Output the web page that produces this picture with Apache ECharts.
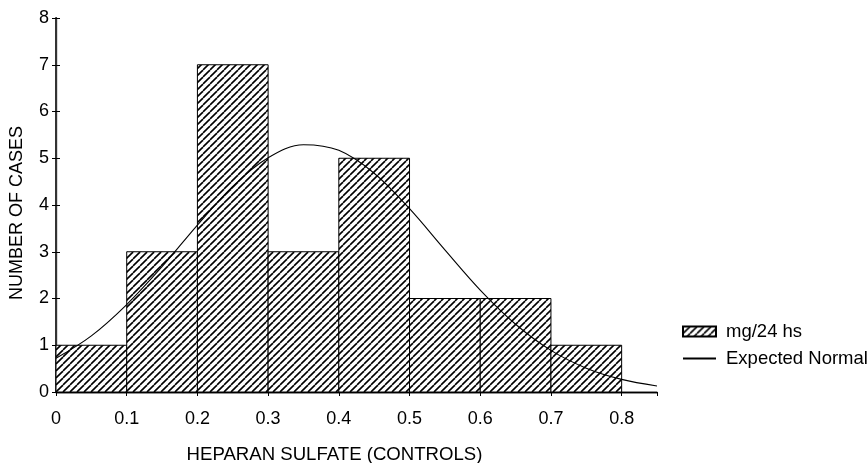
<!DOCTYPE html>
<html>
<head>
<meta charset="utf-8">
<script src="https://cdn.jsdelivr.net/npm/echarts@6/dist/echarts.min.js"></script>
<style>html,body{margin:0;padding:0;background:#fff}#c{width:868px;height:463px}</style>
</head>
<body>
<div id="c"></div>
<script>
// Histogram bins: [start, end]
const binStarts = [0, 0.1, 0.2, 0.3, 0.4, 0.5, 0.6, 0.7];
const binEnds   = [0.1, 0.2, 0.3, 0.4, 0.5, 0.6, 0.7, 0.8];
const counts    = [1, 3, 7, 3, 5, 2, 2, 1];
// Expected normal curve
const curveX = [0, 0.05, 0.1, 0.15, 0.2, 0.25, 0.3, 0.35, 0.4, 0.45, 0.5, 0.55, 0.6, 0.65, 0.7, 0.75, 0.8, 0.85];
const curveY = [0.72, 1.2, 1.87, 2.68, 3.57, 4.4, 5.01, 5.29, 5.17, 4.68, 3.92, 3.04, 2.18, 1.45, 0.89, 0.51, 0.27, 0.13];
const xTicks = ['0', '0.1', '0.2', '0.3', '0.4', '0.5', '0.6', '0.7', '0.8'];
const barName = 'mg/24 hs';
const lineName = 'Expected Normal';
const xTitle = 'HEPARAN SULFATE (CONTROLS)';
const yTitle = 'NUMBER OF CASES';

// hatch pattern
const pc = document.createElement('canvas');
pc.width = 7; pc.height = 7;
const g = pc.getContext('2d');
g.fillStyle = '#fff'; g.fillRect(0, 0, 7, 7);
g.strokeStyle = '#000'; g.lineWidth = 1.6;
for (const k of [-7, 0, 7]) { g.beginPath(); g.moveTo(k, 7); g.lineTo(k + 7, 0); g.stroke(); }
const hatch = { image: pc, repeat: 'repeat' };

const barData = binStarts.map((s, i) => [s, binEnds[i], counts[i]]);
const lineData = curveX.map((x, i) => [x, curveY[i]]);

const FONT = 'Liberation Sans';
const axisLine = { show: true, lineStyle: { color: '#000', width: 1.3 } };
const chart = echarts.init(document.getElementById('c'));
chart.setOption({
  animation: false,
  backgroundColor: '#fff',
  grid: { left: 56, right: 211, top: 18, bottom: 71, containLabel: false, outerBoundsMode: 'none' },
  xAxis: [{
    type: 'value', min: 0, max: 0.85, interval: 0.1, position: 'bottom',
    axisLine, splitLine: { show: false },
    axisTick: { inside: true, length: 4, lineStyle: { color: '#000' } },
    axisLabel: { color: '#000', fontSize: 18, fontFamily: FONT, margin: 18, showMaxLabel: false,
      formatter: v => { const i = Math.round(v * 10); return i <= 8 ? xTicks[i] : ''; } },
    name: xTitle, nameLocation: 'middle', nameGap: 53,
    nameTextStyle: { color: '#000', fontSize: 18.6, fontFamily: FONT, padding: [0, 44, 0, 0] }
  }, {
    type: 'value', min: 0, max: 0.85, interval: 0.1, position: 'top',
    axisLine, splitLine: { show: false },
    axisTick: { inside: true, length: 4, lineStyle: { color: '#000' } },
    axisLabel: { show: false }
  }],
  yAxis: [{
    type: 'value', min: 0, max: 8, interval: 1, position: 'left',
    axisLine, splitLine: { show: false },
    axisTick: { inside: true, length: 4, lineStyle: { color: '#000' } },
    axisLabel: { color: '#000', fontSize: 18, fontFamily: FONT, margin: 7 },
    name: yTitle, nameLocation: 'middle', nameRotate: 90, nameGap: 30,
    nameTextStyle: { color: '#000', fontSize: 18, fontFamily: FONT, padding: [0, 16, 0, 0] }
  }, {
    type: 'value', min: 0, max: 8, interval: 1, position: 'right',
    axisLine: { show: true, lineStyle: { color: '#333', width: 2 } }, splitLine: { show: false },
    axisTick: { inside: true, length: 4, lineStyle: { color: '#000' } },
    axisLabel: { show: false }
  }],
  legend: {
    show: true, orient: 'vertical', left: 682, top: 322, itemWidth: 33, itemHeight: 10, itemGap: 8,
    padding: 0, textStyle: { color: '#000', fontSize: 18.5, fontFamily: FONT, padding: [0, 0, 0, 5] },
    data: [{ name: barName, icon: 'rect' }, { name: lineName, itemStyle: { opacity: 0 } }]
  },
  series: [{
    name: barName, type: 'custom', xAxisIndex: 0, yAxisIndex: 0,
    itemStyle: { color: hatch, borderColor: '#000', borderWidth: 1 },
    encode: { x: [0, 1], y: 2 },
    data: barData,
    renderItem: (params, api) => {
      const p1 = api.coord([api.value(0), api.value(2)]);
      const p2 = api.coord([api.value(1), 0]);
      return { type: 'rect', shape: { x: p1[0], y: p1[1], width: p2[0] - p1[0], height: p2[1] - p1[1] },
        style: { fill: hatch, stroke: '#000', lineWidth: 1 } };
    }
  }, {
    name: lineName, type: 'line', xAxisIndex: 0, yAxisIndex: 0, smooth: 0.35, showSymbol: false, symbol: 'none',
    lineStyle: { color: '#000', width: 1.1 }, itemStyle: { color: '#000' }, z: 5,
    data: lineData
  }]
});
</script>
</body>
</html>
